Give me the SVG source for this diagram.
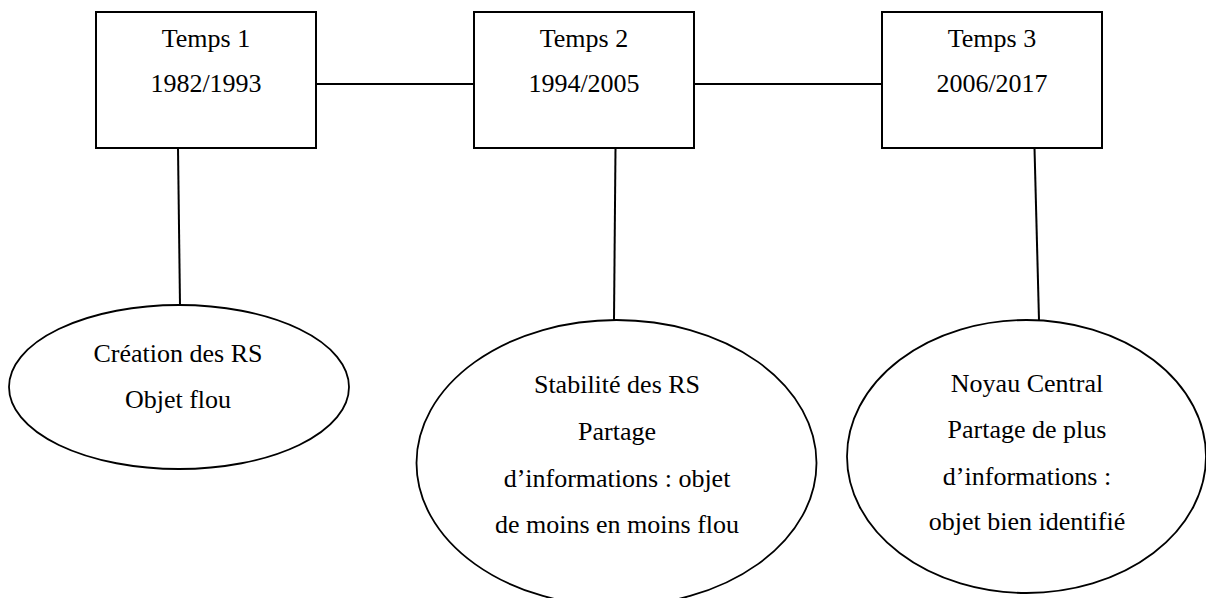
<svg xmlns="http://www.w3.org/2000/svg" width="1206" height="598" viewBox="0 0 1206 598">
<style>
.box{fill:#fff;stroke:#000;stroke-width:2}
.ell{fill:#fff;stroke:#000;stroke-width:1.8}
.conn line{stroke:#000;stroke-width:2}
text{font-family:"Liberation Serif","Times New Roman",serif;font-size:26px;fill:#000;text-anchor:middle}
</style>
<rect width="1206" height="598" fill="#fff"/>
<g id="connectors" class="conn">
<line x1="316" y1="84" x2="474" y2="84"/>
<line x1="694" y1="84" x2="882" y2="84"/>
<line x1="178" y1="148" x2="180" y2="305"/>
<line x1="615.5" y1="148" x2="614" y2="320"/>
<line x1="1034.5" y1="148" x2="1039" y2="320"/>
</g>
<g id="temps1">
<rect class="box" x="96" y="12" width="220" height="136"/>
<text x="206" y="47">Temps 1</text>
<text x="206" y="92">1982/1993</text>
</g>
<g id="temps2">
<rect class="box" x="474" y="12" width="220" height="136"/>
<text x="584" y="47">Temps 2</text>
<text x="584" y="92">1994/2005</text>
</g>
<g id="temps3">
<rect class="box" x="882" y="12" width="220" height="136"/>
<text x="992" y="47">Temps 3</text>
<text x="992" y="92">2006/2017</text>
</g>
<g id="creation">
<ellipse class="ell" cx="179" cy="387" rx="170" ry="82"/>
<text x="178" y="362">Création des RS</text>
<text x="178" y="408">Objet flou</text>
</g>
<g id="stabilite">
<ellipse class="ell" cx="616.5" cy="463" rx="200" ry="143"/>
<text x="617" y="393">Stabilité des RS</text>
<text x="617" y="440">Partage</text>
<text x="617" y="487">d’informations : objet</text>
<text x="617" y="533">de moins en moins flou</text>
</g>
<g id="noyau">
<ellipse class="ell" cx="1026.5" cy="456.5" rx="179.5" ry="136.5"/>
<text x="1027" y="392">Noyau Central</text>
<text x="1027" y="438">Partage de plus</text>
<text x="1027" y="485">d’informations :</text>
<text x="1027" y="530">objet bien identifié</text>
</g>
</svg>
